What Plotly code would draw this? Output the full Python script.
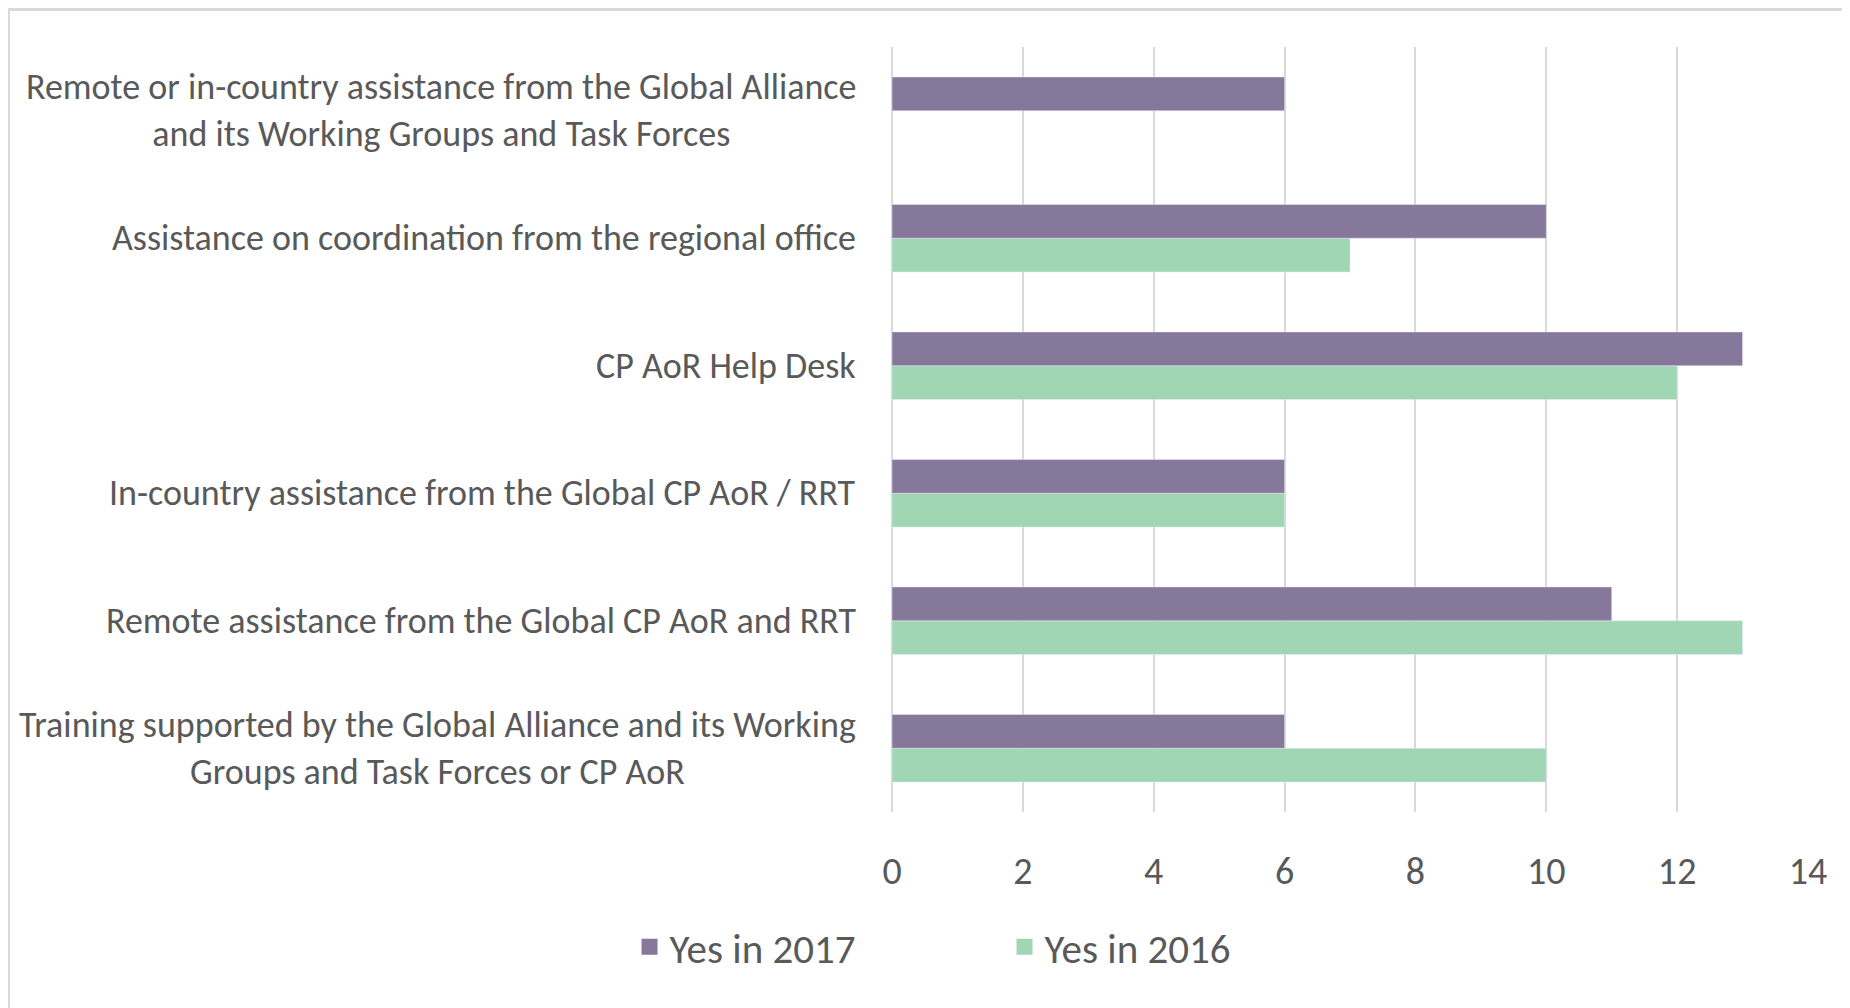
import plotly.graph_objects as go

categories = [
    "Remote or in-country assistance from the Global Alliance<br>and its Working Groups and Task Forces",
    "Assistance on coordination from the regional office",
    "CP AoR Help Desk",
    "In-country assistance from the Global CP AoR / RRT",
    "Remote assistance from the Global CP AoR and RRT",
    "Training supported by the Global Alliance and its Working<br>Groups and Task Forces or CP AoR",
]
yes_2017 = [6, 10, 13, 6, 11, 6]
yes_2016 = [None, 7, 12, 6, 13, 10]
x_ticks = [0, 2, 4, 6, 8, 10, 12, 14]

PURPLE = "#86789A"
GREEN = "#A0D6B4"
TEXT = "#595959"
GRID = "#D9D9D9"
FONT = "Carlito, Calibri, Lato, sans-serif"

# the page adds an 8px body margin, so the figure is 16px smaller than the window
W, H = 1842, 1000
L, R, T, B = 884, 42, 39, 196
pw, ph = W - L - R, H - T - B

fig = go.Figure()
# 2016 first so that 2017 sits on top inside each group
fig.add_trace(go.Bar(y=categories, x=yes_2016, orientation="h", name="Yes in 2016",
                     marker=dict(color=GREEN), showlegend=False))
fig.add_trace(go.Bar(y=categories, x=yes_2017, orientation="h", name="Yes in 2017",
                     marker=dict(color=PURPLE), showlegend=False))

# legend-only entries with bigger square swatches
for name, col, rank in [("Yes in 2017", PURPLE, 1), ("Yes in 2016", GREEN, 2)]:
    fig.add_trace(go.Scatter(x=[None], y=[None], mode="markers", name=name, legendrank=rank,
                             marker=dict(symbol="square", size=20, color=col)))

# category labels, centred multi-line like the original
annotations = [
    dict(x=0, y=c, xref="paper", yref="y", text=c, showarrow=False,
         xanchor="right", xshift=-34, align="center",
         font=dict(family=FONT, size=36, color=TEXT))
    for c in categories
]

def px_x(p):
    return (p - L) / pw

def px_y(p):
    return (H - B - p) / ph

shapes = [
    dict(type="line", xref="paper", yref="paper", x0=px_x(0), x1=px_x(W), y0=px_y(1.5), y1=px_y(1.5),
         line=dict(color="#D9D9D9", width=3)),
    dict(type="line", xref="paper", yref="paper", x0=px_x(0.5), x1=px_x(0.5), y0=px_y(1.5), y1=px_y(H),
         line=dict(color="#D9D9D9", width=3)),
]

fig.update_layout(
    width=W, height=H,
    margin=dict(l=L, r=R, t=T, b=B),
    paper_bgcolor="white", plot_bgcolor="white",
    barmode="group", bargap=0.47, bargroupgap=0,
    font=dict(family=FONT, color=TEXT),
    xaxis=dict(range=[0, 14], tickvals=x_ticks, showgrid=True, gridcolor=GRID, gridwidth=1.5,
               zeroline=True, zerolinecolor=GRID, zerolinewidth=1.5, showline=False,
               tickfont=dict(family=FONT, size=38, color=TEXT), ticklabelstandoff=33),
    yaxis=dict(categoryorder="array", categoryarray=categories[::-1], showticklabels=False,
               showgrid=False, zeroline=False),
    legend=dict(orientation="h", xref="container", yref="container", x=0.541, y=0.061,
                xanchor="center", yanchor="middle", font=dict(family=FONT, size=41, color=TEXT),
                entrywidth=330, itemwidth=30),
    annotations=annotations,
    shapes=shapes,
)

fig.write_html("out.html")
